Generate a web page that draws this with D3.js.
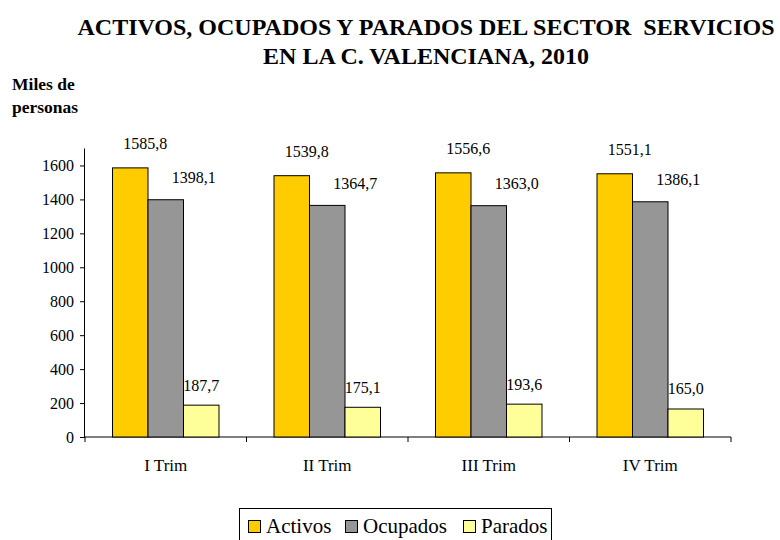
<!DOCTYPE html>
<html>
<head>
<meta charset="utf-8">
<script src="https://cdn.jsdelivr.net/npm/d3@7"></script>
<style>
  body { margin: 0; background: #fff; }
  svg { display: block; font-family: "Liberation Serif", "Times New Roman", serif; }
</style>
</head>
<body>
<div class="bar-chart"></div>
<script>

// data (miles de personas)
var categories = ["I Trim", "II Trim", "III Trim", "IV Trim"]
var seriesNames = ["Activos", "Ocupados", "Parados"]
var activos = [1585.8, 1539.8, 1556.6, 1551.1]
var ocupados = [1398.1, 1364.7, 1363.0, 1386.1]
var parados = [187.7, 175.1, 193.6, 165.0]
var yTicks = [0, 200, 400, 600, 800, 1000, 1200, 1400, 1600]

var colors = {"Activos": "#FFCC00", "Ocupados": "#969696", "Parados": "#FFFF99"}
// label nudges per series (the excel labels were moved by hand)
var labelShift = {"Activos": [15, -18.5], "Ocupados": [28, -16.5], "Parados": [0, -14.5]}

var width = 780, height = 540
var plot = {left: 85, right: 731, top: 148.5, bottom: 437}

var svg = d3.select(".bar-chart")
  .append("svg")
    .attr("width", width)
    .attr("height", height)

var rows = []
categories.forEach(function(c, i) {
  rows.push({cat: c, serie: "Activos", value: activos[i]})
  rows.push({cat: c, serie: "Ocupados", value: ocupados[i]})
  rows.push({cat: c, serie: "Parados", value: parados[i]})
})

var x = d3.scaleBand()
          .domain(categories)
          .range([plot.left, plot.right])
          .padding(0)

var xSub = d3.scaleBand()
          .domain(seriesNames)
          .range([0, x.bandwidth()])
          .paddingInner(0)
          .paddingOuter(0.775)

var y = d3.scaleLinear()
          .domain([0, 1700])
          .range([plot.bottom, plot.top])

// title
var title = svg.append("text")
    .attr("text-anchor", "middle")
    .style("font-weight", "bold")
    .style("font-size", "24px")
    .style("white-space", "pre")
title.append("tspan").attr("x", 426).attr("y", 34.5).text("ACTIVOS, OCUPADOS Y PARADOS DEL SECTOR  SERVICIOS")
title.append("tspan").attr("x", 426).attr("y", 63.5).text("EN LA C. VALENCIANA, 2010")

// y unit
var unit = svg.append("text")
    .style("font-weight", "bold")
    .style("font-size", "17.5px")
unit.append("tspan").attr("x", 12).attr("y", 90).text("Miles de")
unit.append("tspan").attr("x", 12).attr("y", 113).text("personas")

// y axis
var yAxis = svg.append("g")
    .attr("transform", "translate(" + plot.left + ",0)")
    .call(d3.axisLeft(y)
            .tickValues(yTicks)
            .tickSize(5)
            .tickPadding(6)
            .tickFormat(d3.format("d")))
yAxis.select(".domain").attr("d", "M-0.5," + plot.top + "V" + plot.bottom)
yAxis.selectAll("text")
    .style("font-size", "16px")
    .style("font-family", "Liberation Serif")
    .attr("fill", "#000")

// x axis: ticks on category boundaries
var xAxis = svg.append("g")
    .attr("transform", "translate(0," + plot.bottom + ")")
xAxis.append("line")
    .attr("x1", plot.left)
    .attr("x2", plot.right)
    .attr("stroke", "#000")
xAxis.selectAll(".xtick")
    .data(categories.concat(["end"]))
    .enter()
    .append("line")
      .attr("class", "xtick")
      .attr("x1", function(d, i) { return i < categories.length ? x(d) : plot.right })
      .attr("x2", function(d, i) { return i < categories.length ? x(d) : plot.right })
      .attr("y1", 0)
      .attr("y2", 5)
      .attr("stroke", "#000")
xAxis.selectAll(".xlabel")
    .data(categories)
    .enter()
    .append("text")
      .attr("class", "xlabel")
      .attr("x", function(d) { return x(d) + x.bandwidth() / 2 })
      .attr("y", 34)
      .attr("text-anchor", "middle")
      .style("font-size", "17px")
      .text(function(d) { return d })

// bars
svg.selectAll("mybar")
  .data(rows)
  .enter()
  .append("rect")
    .attr("x", function(d) { return x(d.cat) + xSub(d.serie) })
    .attr("y", function(d) { return y(d.value) })
    .attr("width", xSub.bandwidth())
    .attr("height", function(d) { return y(0) - y(d.value) })
    .attr("fill", function(d) { return colors[d.serie] })
    .attr("stroke", "#000")
    .attr("stroke-width", 1)

var fmt = d3.format(".1f")
svg.selectAll("mylabel")
  .data(rows)
  .enter()
  .append("text")
    .attr("x", function(d) { return x(d.cat) + xSub(d.serie) + xSub.bandwidth() / 2 + labelShift[d.serie][0] })
    .attr("y", function(d) { return y(d.value) + labelShift[d.serie][1] })
    .attr("text-anchor", "middle")
    .style("font-size", "16px")
    .text(function(d) { return fmt(d.value).replace(".", ",") })

// legend
var legend = svg.append("g")
legend.append("rect")
    .attr("x", 239.5)
    .attr("y", 508.5)
    .attr("width", 312)
    .attr("height", 40)
    .attr("fill", "#fff")
    .attr("stroke", "#000")

var legendX = [248, 345, 463]
seriesNames.forEach(function(s, i) {
  legend.append("rect")
      .attr("x", legendX[i] + 0.5)
      .attr("y", 520.5)
      .attr("width", 12)
      .attr("height", 12)
      .attr("fill", colors[s])
      .attr("stroke", "#000")
  legend.append("text")
      .attr("x", legendX[i] + 18)
      .attr("y", 533)
      .style("font-size", "21px")
      .text(s)
})

</script>
</body>
</html>
